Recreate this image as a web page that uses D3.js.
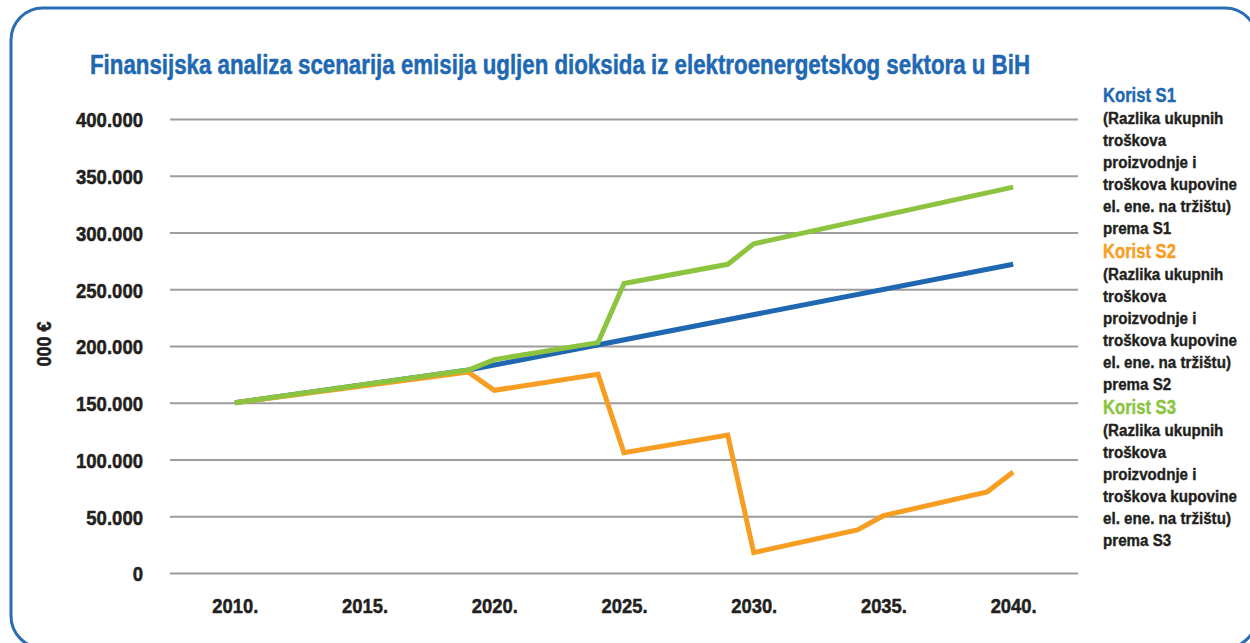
<!DOCTYPE html>
<html><head><meta charset="utf-8">
<script src="https://cdn.jsdelivr.net/npm/d3@7"></script>
<style>
html,body{margin:0;padding:0;background:#fff;}
svg{display:block;}
text{font-family:"Liberation Sans","Arial",sans-serif;font-weight:bold;}
</style></head><body>
<svg id="chart" width="1250" height="643"></svg>
<script>
// ---------- data ----------
const chartTitle = "Finansijska analiza scenarija emisija ugljen dioksida iz elektroenergetskog sektora u BiH";
const yAxisTitle = "000 €";
const yTickValues = [0, 50000, 100000, 150000, 200000, 250000, 300000, 350000, 400000];
const xTickYears = [2010, 2015, 2020, 2025, 2030, 2035, 2040];

const s1Years  = [2010, 2019, 2040];
const s1Values = [150000, 178800, 272000];

const s2Years  = [2010, 2019, 2020, 2024, 2025, 2029, 2030, 2034, 2035, 2039, 2040];
const s2Values = [150000, 177000, 161000, 175000, 106000, 121500, 18000, 38000, 50500, 71500, 89000];

const s3Years  = [2010, 2019, 2020, 2024, 2025, 2029, 2030, 2040];
const s3Values = [150000, 178800, 188000, 203000, 255000, 272000, 290000, 340000];

const seriesNames = ["Korist S1", "Korist S2", "Korist S3"];
const seriesNoteLines = ["(Razlika ukupnih", "troškova", "proizvodnje i", "troškova kupovine", "el. ene. na tržištu)"];
const seriesNoteLast = ["prema S1", "prema S2", "prema S3"];

// ---------- styles ----------
const colors = ["#1f67b1", "#f79d22", "#8cc43f"];
const titleColor = "#2168b3";
const textColor = "#231f20";
const gridColor = "#9c9c9e";

const svg = d3.select("#chart");
const plot = {left: 170, right: 1078, top: 119, bottom: 573};

// frame
svg.append("rect")
  .attr("x", 11).attr("y", 8).attr("width", 1246).attr("height", 640)
  .attr("rx", 32).attr("ry", 32)
  .attr("fill", "none").attr("stroke", "#2a6db5").attr("stroke-width", 3);

const x = d3.scaleLinear().domain([2007.5, 2042.5]).range([plot.left, plot.right]);
const y = d3.scaleLinear().domain([0, 400000]).range([plot.bottom, plot.top]);

const loc = d3.formatLocale({decimal: ",", thousands: ".", grouping: [3], currency: ["", " €"]});
const fmt = loc.format(",");

function measure(str, size) {
  const t = svg.append("text").attr("font-size", size).text(str);
  const w = t.node().getComputedTextLength();
  t.remove();
  return w;
}
function condense(sel, k) {
  sel.each(function () {
    const w = this.getComputedTextLength();
    this.setAttribute("textLength", w * k);
    this.setAttribute("lengthAdjust", "spacingAndGlyphs");
  });
}
function heavy(sel, color, w) {
  sel.attr("stroke", color).attr("stroke-width", w).attr("stroke-linejoin", "round");
}

// grid
const grid = svg.append("g").attr("transform", `translate(${plot.left},0)`)
  .call(d3.axisLeft(y).tickValues(yTickValues).tickSize(-(plot.right - plot.left)).tickFormat(""));
grid.select(".domain").remove();
grid.selectAll("line").attr("stroke", gridColor).attr("stroke-width", 2);

// y axis labels
const tickSize = 20.5;
const yAx = svg.append("g").attr("transform", `translate(${plot.left},0)`)
  .call(d3.axisLeft(y).tickValues(yTickValues).tickSize(0).tickPadding(27).tickFormat(d => fmt(d)));
yAx.select(".domain").remove();
yAx.selectAll("text").attr("font-size", tickSize).attr("fill", textColor)
  .attr("font-family", "Liberation Sans, Arial, sans-serif").attr("font-weight", "bold").attr("dy", "0.38em");
heavy(yAx.selectAll("text"), textColor, 0.5);
condense(yAx.selectAll("text"), 67 / measure("400.000", tickSize));

// x axis labels
const xAx = svg.append("g").attr("transform", `translate(0,${plot.bottom})`)
  .call(d3.axisBottom(x).tickValues(xTickYears).tickSize(0).tickPadding(25).tickFormat(d => d + "."));
xAx.select(".domain").remove();
xAx.selectAll("text").attr("font-size", tickSize).attr("fill", textColor)
  .attr("font-family", "Liberation Sans, Arial, sans-serif").attr("font-weight", "bold");
heavy(xAx.selectAll("text"), textColor, 0.5);
condense(xAx.selectAll("text"), 46 / measure("2010.", tickSize));

// y axis title
const yt = svg.append("text")
  .attr("transform", "translate(51,344) rotate(-90)")
  .attr("text-anchor", "middle").attr("font-size", 20).attr("fill", textColor)
  .text(yAxisTitle);
heavy(yt, textColor, 0.5);
yt.attr("textLength", 45).attr("lengthAdjust", "spacingAndGlyphs");

// title
const tt = svg.append("text").attr("x", 90).attr("y", 73.5)
  .attr("font-size", 27).attr("fill", titleColor).text(chartTitle);
heavy(tt, titleColor, 0.5);
tt.attr("textLength", 940).attr("lengthAdjust", "spacingAndGlyphs");

// lines
const series = [
  {years: s1Years, values: s1Values},
  {years: s2Years, values: s2Values},
  {years: s3Years, values: s3Values}
];
const line = d3.line().x(d => x(d[0])).y(d => y(d[1]));
series.forEach((s, i) => {
  const pts = s.years.map((yr, j) => [yr, s.values[j]]);
  svg.append("path").datum(pts)
    .attr("d", line)
    .attr("fill", "none")
    .attr("stroke", colors[i])
    .attr("stroke-width", 5)
    .attr("stroke-linejoin", "miter")
    .attr("stroke-linecap", "butt");
});

// legend (condensed via horizontal scale transform)
const legX = 1103;
const headSize = 20, bodySize = 17;
const kHead = 73 / measure("Korist S1", headSize);
const kBody = 134 / measure("troškova kupovine", bodySize);
seriesNames.forEach((name, i) => {
  const base = 102 + i * 156;
  const h = svg.append("text")
    .attr("transform", `translate(${legX},${base}) scale(${kHead},1)`)
    .attr("font-size", headSize).attr("fill", colors[i]).text(name);
  heavy(h, colors[i], 0.4);
  const lines = seriesNoteLines.concat([seriesNoteLast[i]]);
  lines.forEach((ln, j) => {
    const t = svg.append("text")
      .attr("transform", `translate(${legX},${base + 22 * (j + 1)}) scale(${kBody},1)`)
      .attr("font-size", bodySize).attr("fill", textColor).text(ln);
    heavy(t, textColor, 0.4);
  });
});
</script>
</body></html>
